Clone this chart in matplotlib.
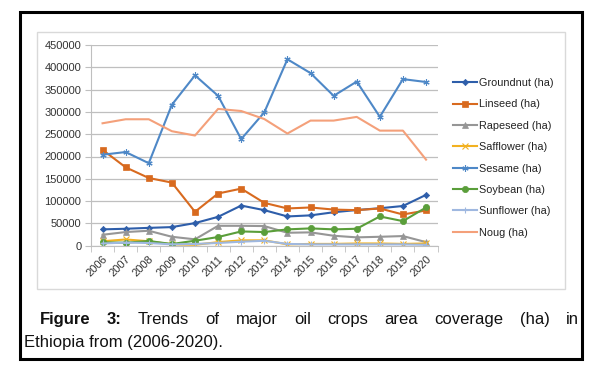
import matplotlib
matplotlib.use("Agg")
import matplotlib.pyplot as plt
from matplotlib.patches import Rectangle

plt.rcParams['font.family'] = ['Liberation Sans', 'DejaVu Sans']

# Données (ha)
years = [str(y) for y in range(2006, 2021)]
groundnut = [36600, 38000, 40000, 41700, 50700, 64700, 90000, 79700, 65600, 68000, 75000, 80000, 84000, 89000, 114000]
linseed = [215000, 175700, 151800, 141500, 76000, 117000, 128000, 96000, 83500, 85700, 81000, 79700, 83500, 70000, 79000]
rapeseed = [24500, 30600, 33500, 20000, 14300, 44600, 44600, 44000, 29000, 29900, 22300, 18700, 20000, 21600, 8000]
safflower = [10000, 14000, 10000, 3000, 2000, 8000, 12000, 12000, 3000, 4000, 4000, 5000, 5000, 4000, 5000]
sesame = [204000, 210000, 185000, 316000, 382000, 336000, 239000, 299000, 418000, 387000, 336000, 368000, 289000, 373500, 367000]
soybean = [7600, 6700, 10500, 3800, 11200, 19400, 32000, 30600, 36600, 38800, 36600, 38000, 65600, 55100, 85700]
sunflower = [5000, 7000, 6000, 3000, 4000, 6000, 9000, 11000, 4000, 3000, 3000, 3000, 3000, 3000, 2000]
noug = [274500, 283500, 283500, 256700, 247000, 306700, 302000, 284000, 251500, 280500, 280500, 288800, 258000, 258000, 193000]

series = [
    ("Groundnut (ha)", groundnut, '#2E5EAA', 'D', 3.2),
    ("Linseed (ha)", linseed, '#D86A1F', 's', 4.2),
    ("Rapeseed (ha)", rapeseed, '#969696', '^', 4.2),
    ("Safflower (ha)", safflower, '#F2B120', 'x', 4),
    ("Sesame (ha)", sesame, '#4E88C7', (6, 2, 0), 4.5),
    ("Soybean (ha)", soybean, '#5A9E3A', 'o', 4.5),
    ("Sunflower (ha)", sunflower, '#9FB8E0', '+', 5),
    ("Noug (ha)", noug, '#F4A07A', None, 0),
]

fig = plt.figure(figsize=(5.96, 3.68), dpi=100)
W, H = 596, 368

# Cadre noir extérieur et cadre gris du graphique
fig.patches.append(Rectangle((20 / W, 1 - 359 / H), 562 / W, 347 / H, transform=fig.transFigure,
                             fill=False, edgecolor='black', linewidth=2.2))
fig.patches.append(Rectangle((37 / W, 1 - 289 / H), 528 / W, 257 / H, transform=fig.transFigure,
                             fill=False, edgecolor='#D9D9D9', linewidth=1.0))

ax = fig.add_axes([91 / W, 1 - 245.7 / H, 346.6 / W, 200.7 / H])
x = list(range(len(years)))
for label, vals, color, marker, ms in series:
    ax.plot(x, vals, color=color, linewidth=1.5, marker=marker, markersize=ms,
            markeredgewidth=0.8 if marker in ('x', '+', (6, 2, 0)) else 0.5, label=label)

ax.set_xlim(-0.5, 14.5)
ax.set_ylim(0, 450000)
ax.set_yticks(range(0, 450001, 50000))
ax.set_yticklabels([str(v) for v in range(0, 450001, 50000)], fontsize=8, color='#333333')
ax.grid(axis='y', color='#BFBFBF', linewidth=0.9)
ax.set_axisbelow(True)
for s in ('top', 'right'):
    ax.spines[s].set_visible(False)
ax.spines['left'].set_color('#BFBFBF')
ax.spines['bottom'].set_color('#BFBFBF')
ax.tick_params(axis='y', length=4, color='#BFBFBF', pad=3)

ax.set_xticks(x)
ax.set_xticklabels(years, rotation=45, ha='right', va='top', rotation_mode='anchor',
                   fontsize=8, color='#333333')
ax.tick_params(axis='x', which='major', length=0, pad=6)
ax.set_xticks([i - 0.5 for i in range(len(years) + 1)], minor=True)
ax.tick_params(axis='x', which='minor', length=4, color='#BFBFBF')

ax.legend(loc='upper left', bbox_to_anchor=(453 / W, 1 - 78 / H), bbox_transform=fig.transFigure,
          frameon=False, fontsize=7.8, handlelength=2.2, labelspacing=1.05, handletextpad=0.2,
          borderaxespad=0, borderpad=0, labelcolor='#222222')

# Légende de la figure, première ligne justifiée
line1 = [("Figure", 'bold'), ("3:", 'bold'), ("Trends", 'normal'), ("of", 'normal'), ("major", 'normal'),
         ("oil", 'normal'), ("crops", 'normal'), ("area", 'normal'), ("coverage", 'normal'),
         ("(ha)", 'normal'), ("in", 'normal')]
fs = 12
y1 = 1 - 324 / H
renderer = fig.canvas.get_renderer()
texts = [fig.text(0, y1, w, fontsize=fs, fontweight=wt, va='baseline', color='#111111') for w, wt in line1]
widths = [t.get_window_extent(renderer).width for t in texts]
x0, x1 = 40, 579
gap = (x1 - x0 - sum(widths)) / (len(texts) - 1)
pos = x0
for t, w in zip(texts, widths):
    t.set_x(pos / W)
    pos += w + gap
fig.text(24 / W, 1 - 347 / H, "Ethiopia from (2006-2020).", fontsize=fs, va='baseline', color='#111111')

fig.savefig("out.png", dpi=100)
